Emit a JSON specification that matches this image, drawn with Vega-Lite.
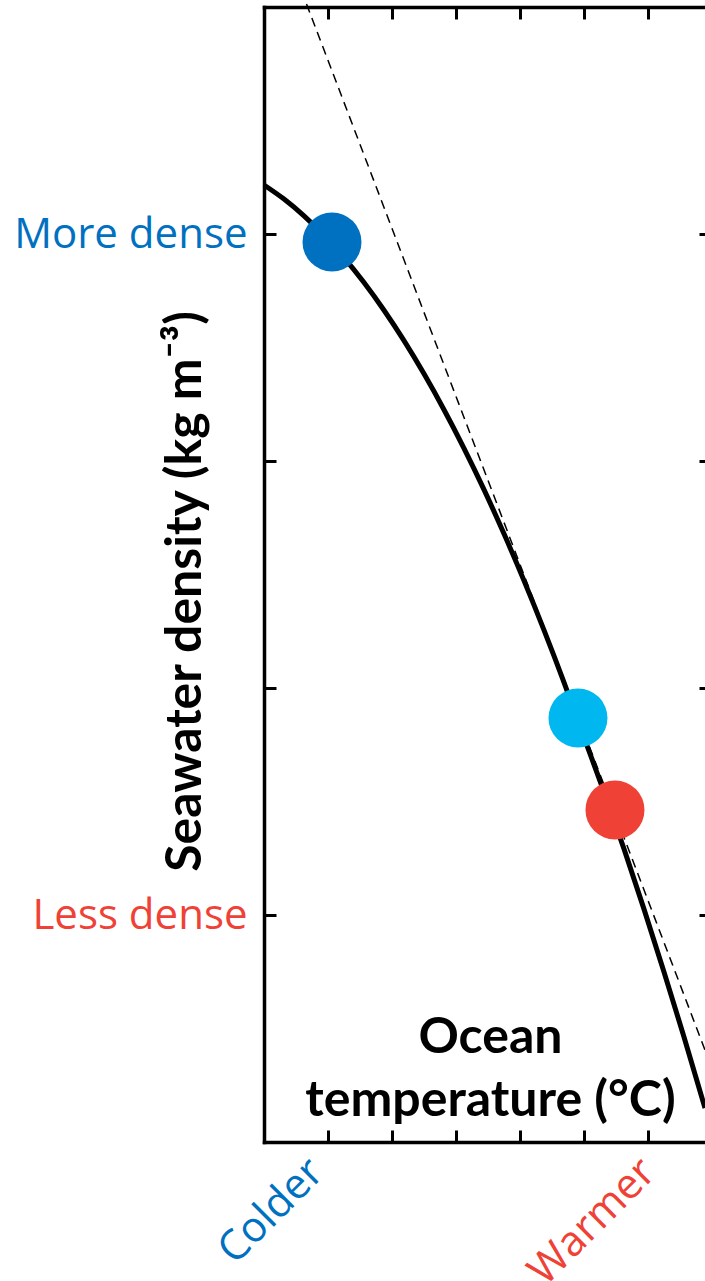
{
  "$schema": "https://vega.github.io/schema/vega-lite/v6.json",
  "width": 441,
  "height": 1135,
  "autosize": {"type": "none"},
  "padding": {"left": 264, "top": 7, "right": 0, "bottom": 139},
  "background": "white",
  "config": {
    "view": {"stroke": null},
    "axis": {"grid": false, "domainColor": "black", "tickColor": "black", "domainWidth": 3.5, "tickWidth": 3, "domainCap": "square", "labelOverlap": false, "labelFlush": false, "labelBound": false, "labelLimit": 400}
  },
  "datasets": {
    "curve": [
      {"t": 0, "rho": 3.216},
      {"t": 0.3125, "rho": 3.154},
      {"t": 0.625, "rho": 3.080},
      {"t": 0.9375, "rho": 2.994},
      {"t": 1.25, "rho": 2.896},
      {"t": 1.5625, "rho": 2.786},
      {"t": 1.875, "rho": 2.664},
      {"t": 2.1875, "rho": 2.530},
      {"t": 2.5, "rho": 2.384},
      {"t": 2.8125, "rho": 2.226},
      {"t": 3.125, "rho": 2.056},
      {"t": 3.4375, "rho": 1.874},
      {"t": 3.75, "rho": 1.679},
      {"t": 4.0625, "rho": 1.473},
      {"t": 4.375, "rho": 1.255},
      {"t": 4.6875, "rho": 1.025},
      {"t": 5.0, "rho": 0.782},
      {"t": 5.3125, "rho": 0.542},
      {"t": 5.625, "rho": 0.291},
      {"t": 5.9375, "rho": 0.026},
      {"t": 6.25, "rho": -0.251},
      {"t": 6.5625, "rho": -0.537},
      {"t": 6.890625, "rho": -0.850}
    ],
    "tangent": [
      {"t": 0.581, "rho": 4.075},
      {"t": 6.890625, "rho": -0.595}
    ],
    "dots": [
      {"t": 1.0625, "rho": 2.965, "c": "cold"},
      {"t": 4.906, "rho": 0.868, "c": "mid"},
      {"t": 5.484, "rho": 0.463, "c": "warm"}
    ]
  },
  "resolve": {"axis": {"x": "independent", "y": "independent"}},
  "layer": [
    {
      "data": {"name": "curve"},
      "mark": {"type": "line", "stroke": "black", "strokeWidth": 5, "interpolate": "monotone"},
      "encoding": {
        "x": {
          "field": "t", "type": "quantitative",
          "scale": {"domain": [0, 6.890625], "nice": false, "zero": false},
          "axis": {
            "orient": "bottom", "values": [1, 2, 3, 4, 5, 6], "tickSize": -12,
            "labelExpr": "datum.value == 1 ? 'Colder' : datum.value == 6 ? 'Warmer' : ''",
            "labelColor": {"condition": {"test": "datum.value == 1", "value": "#0070C0"}, "value": "#EF4136"},
            "labelOffset": {"condition": {"test": "datum.value == 1", "value": -12}, "value": 0},
            "labelAngle": -45, "labelAlign": "right", "labelBaseline": "middle",
            "labelFont": "Open Sans", "labelFontSize": 42, "labelPadding": 35,
            "title": ["Ocean", "temperature (°C)"],
            "titleFont": "Lato", "titleFontSize": 50, "titleFontWeight": "bold", "titleColor": "black",
            "titleX": 226, "titleY": -90, "titleAlign": "center", "titleBaseline": "alphabetic", "titleLineHeight": 63
          }
        },
        "y": {
          "field": "rho", "type": "quantitative",
          "scale": {"domain": [-1, 4], "nice": false, "zero": false},
          "axis": {
            "orient": "left", "values": [0, 1, 2, 3], "tickSize": -12,
            "labelExpr": "datum.value == 3 ? 'More dense' : datum.value == 0 ? 'Less dense' : ''",
            "labelColor": {"condition": {"test": "datum.value == 3", "value": "#0070C0"}, "value": "#EF4136"},
            "labelFont": "Open Sans", "labelFontSize": 42, "labelPadding": 29,
            "title": "Seawater density (kg m⁻³)",
            "titleFont": "Lato", "titleFontSize": 50, "titleFontWeight": "bold", "titleColor": "black",
            "titleX": -64, "titleY": 584, "titleAngle": -90, "titleAlign": "center", "titleBaseline": "alphabetic"
          }
        }
      }
    },
    {
      "data": {"name": "tangent"},
      "mark": {"type": "line", "stroke": "black", "strokeWidth": 1.5, "strokeDash": [9, 6]},
      "encoding": {
        "x": {
          "field": "t", "type": "quantitative",
          "axis": {"orient": "top", "values": [1, 2, 3, 4, 5, 6], "tickSize": -12, "labels": false, "title": null}
        },
        "y": {
          "field": "rho", "type": "quantitative",
          "axis": {"orient": "right", "values": [0, 1, 2, 3], "tickSize": -6, "labels": false, "domain": false, "title": null}
        }
      }
    },
    {
      "data": {"name": "dots"},
      "mark": {"type": "circle", "size": 3480, "opacity": 1},
      "encoding": {
        "x": {"field": "t", "type": "quantitative", "axis": null},
        "y": {"field": "rho", "type": "quantitative", "axis": null},
        "color": {
          "field": "c", "type": "nominal",
          "scale": {"domain": ["cold", "mid", "warm"], "range": ["#0070C0", "#00B7F0", "#EF4136"]},
          "legend": null
        }
      }
    }
  ]
}
